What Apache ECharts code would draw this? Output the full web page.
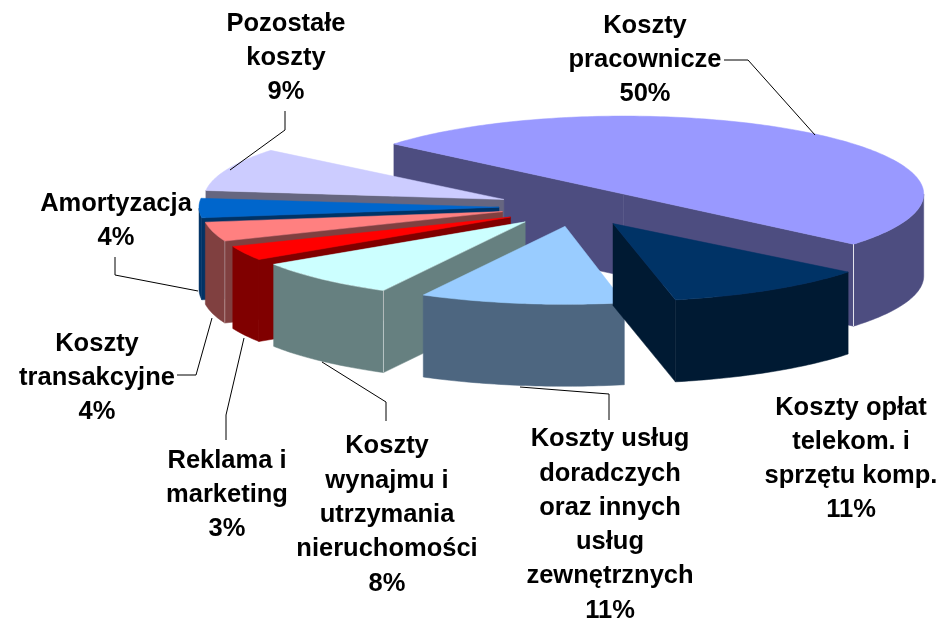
<!DOCTYPE html>
<html><head><meta charset="utf-8">
<style>html,body{margin:0;padding:0;background:#fff}#c{width:939px;height:618px}</style>
<script src="https://cdn.jsdelivr.net/npm/echarts@6/dist/echarts.min.js"></script>
</head><body><div id="c"></div>
<script>
// Clockwise from the big slice
const categories = ['Koszty pracownicze','Koszty opłat telekom. i sprzętu komp.','Koszty usług doradczych oraz innych usług zewnętrznych','Koszty wynajmu i utrzymania nieruchomości','Reklama i marketing','Koszty transakcyjne','Amortyzacja','Pozostałe koszty'];
const values = [50,11,11,8,3,4,4,9];
const topColors = ['#9999FF','#003366','#99CCFF','#CCFFFF','#FF0000','#FF8080','#0066CC','#CCCCFF'];
const wallColors = ['#4D4D80','#001A33','#4D6680','#668080','#800000','#804040','#003366','#666680'];
const drawRank = [0,7,6,5,4,3,2,1];
const edgeAlpha = [0.85,0,0,0.5,0,0.35,0,0];

// 3D projection parameters
const C = [573,207], RX = 300, RY = 78, DEPTH = 82, EXPLODE = 0.25, START = 219;
// small per-slice corrections for the original's perspective: dx, dy, angle
const nudge = [[2.5,2,1],[0.5,0,-0.6],[3,0,0],[3,0.5,0],[4,1,0],[2,-0.5,0],[1,0,0],[0,0,0]];
const total = values.reduce((a,b)=>a+b,0);
const rad = d => d*Math.PI/180;
const pt = (o,a,dy) => [o[0]+RX*Math.cos(rad(a)), o[1]+RY*Math.sin(rad(a))+(dy||0)];

function renderSlice(params, api){
  const i = params.dataIndex;
  let a0 = START;
  for(let k=0;k<i;k++) a0 += values[k]/total*360;
  a0 += nudge[i][2];
  const a1 = a0 + api.value(0)/total*360, mid=(a0+a1)/2;
  const o = [C[0]+EXPLODE*RX*Math.cos(rad(mid))+nudge[i][0], C[1]+EXPLODE*RY*Math.sin(rad(mid))+nudge[i][1]];
  const z = drawRank[i]*10;
  const kids = [];
  const poly = (points, fill, sub) => kids.push({type:'polygon',z2:z+sub,shape:{points},style:{fill,stroke:fill,lineWidth:0.5}});
  const face = a => [[o[0],o[1]],pt(o,a),pt(o,a,DEPTH),[o[0],o[1]+DEPTH]];
  const arc = [];
  for(let a=a0;a<a1;a+=1) arc.push(pt(o,a));
  arc.push(pt(o,a1));
  // cut faces
  if(Math.cos(rad(a0))<0) poly(face(a0),wallColors[i],0);
  if(Math.cos(rad(a1))>0) poly(face(a1),wallColors[i],1);
  // outer rim: only the front half
  const front = [];
  for(let a=a0;a<a1;a+=1){ const n=a%360; if(n<=180) front.push(a); }
  if(a1%360<=180) front.push(a1);
  if(front.length>1){
    const up = front.map(a=>pt(o,a)), dn = front.map(a=>pt(o,a,DEPTH)).reverse();
    poly(up.concat(dn),wallColors[i],2);
  }
  // top
  poly([[o[0],o[1]]].concat(arc),topColors[i],3);
  // light edge at the outer corner of the cut face
  const e = (Math.cos(rad(a0))<0 && Math.sin(rad(a0))>0) ? a0 : a1;
  if(edgeAlpha[i]>0){
    const p=pt(o,e), q=pt(o,e,DEPTH);
    kids.push({type:'line',z2:z+4,shape:{x1:p[0],y1:p[1],x2:q[0],y2:q[1]},style:{stroke:'rgba(255,255,255,'+edgeAlpha[i]+')',lineWidth:1}});
  }
  return {type:'group',children:kids};
}

const labelTexts = ['Koszty\npracownicze\n50%','Koszty opłat\ntelekom. i\nsprzętu komp.\n11%','Koszty usług\ndoradczych\noraz innych\nusług\nzewnętrznych\n11%','Koszty\nwynajmu i\nutrzymania\nnieruchomości\n8%','Reklama i\nmarketing\n3%','Koszty\ntransakcyjne\n4%','Amortyzacja\n4%','Pozostałe\nkoszty\n9%'];
const labelPos = [[645,60],[851,459],[610,525],[387,515],[227,495],[97,378],[116,221],[286,58]];
const leaders = [
 [[724,60],[748,60],[815,135]],
 [[609,420],[609,394],[520,387]],
 [[386,421],[386,402],[322,362]],
 [[226,440],[226,415],[244,338]],
 [[177,375],[196,375],[212,318]],
 [[115,257],[115,275],[198,291]],
 [[285,111],[285,130],[230,170]]
];

const chart = echarts.init(document.getElementById('c'),null,{renderer:'canvas'});
chart.setOption({
  animation:false,
  backgroundColor:'#fff',
  series:[{type:'custom',coordinateSystem:'none',renderItem:renderSlice,silent:true,
    data:values.map((v,i)=>({name:categories[i],value:[v]}))}],
  graphic:{elements:[
    ...leaders.map(p=>({type:'polyline',z:5,shape:{points:p},style:{stroke:'#000',lineWidth:1,fill:null}})),
    ...labelTexts.map((t,i)=>({type:'text',z:6,x:labelPos[i][0],y:labelPos[i][1],
      style:{text:t,fill:'#000',font:'bold 25.5px "Liberation Sans",Arial,sans-serif',lineHeight:34.3,align:'center',verticalAlign:'middle'}}))
  ]}
});
</script></body></html>
